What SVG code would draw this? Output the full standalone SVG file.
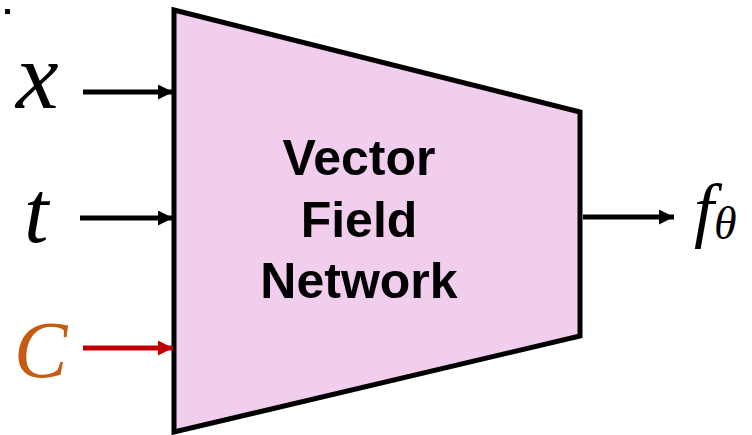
<svg xmlns="http://www.w3.org/2000/svg" width="752" height="435" viewBox="0 0 752 435">
  <defs>
    <style>
      .math { font-family: "Liberation Serif", "DejaVu Serif", serif; font-style: italic; }
      .title { font-family: "Liberation Sans", Arial, sans-serif; font-weight: bold; font-size: 50px; fill: #000; text-anchor: middle; }
      .edge { stroke-width: 5; fill: none; }
    </style>
    <marker id="headBlack" viewBox="0 0 10 10" refX="10" refY="5" markerWidth="3" markerHeight="3" markerUnits="strokeWidth" orient="auto">
      <path d="M0,0 L10,5 L0,10 z" fill="#000"/>
    </marker>
    <marker id="headRed" viewBox="0 0 10 10" refX="10" refY="5" markerWidth="3" markerHeight="3" markerUnits="strokeWidth" orient="auto">
      <path d="M0,0 L10,5 L0,10 z" fill="#c00000"/>
    </marker>
  </defs>

  <rect width="752" height="435" fill="#ffffff"/>
  <rect x="5" y="9" width="5" height="5" fill="#000"/>

  <!-- network block -->
  <g id="network">
    <polygon points="174,10 580,112 580,336 174,432" fill="#f1cdee" stroke="#000" stroke-width="5" stroke-linejoin="miter"/>
    <text class="title" x="359" y="175">Vector</text>
    <text class="title" x="359" y="237">Field</text>
    <text class="title" x="359" y="298">Network</text>
  </g>

  <!-- inputs -->
  <g id="input-x">
    <text class="math" x="16" y="108" font-size="96" fill="#000">x</text>
  </g>
  <g id="input-t">
    <text class="math" x="24" y="242" font-size="88" fill="#000">t</text>
  </g>
  <g id="input-c">
    <text class="math" x="14" y="377" font-size="80" fill="#c55a11">C</text>
  </g>

  <!-- output -->
  <g id="output-f">
    <text class="math" x="694" y="234" font-size="72" fill="#000">f<tspan font-size="46" dy="5">θ</tspan></text>
  </g>

  <!-- connectors -->
  <g id="connectors">
    <line class="edge" x1="83" y1="92" x2="173" y2="92" stroke="#000" marker-end="url(#headBlack)"/>
    <line class="edge" x1="80" y1="218" x2="173" y2="218" stroke="#000" marker-end="url(#headBlack)"/>
    <line class="edge" x1="83" y1="348" x2="173" y2="348" stroke="#c00000" marker-end="url(#headRed)"/>
    <line class="edge" x1="583" y1="217" x2="674" y2="217" stroke="#000" marker-end="url(#headBlack)"/>
  </g>
</svg>
